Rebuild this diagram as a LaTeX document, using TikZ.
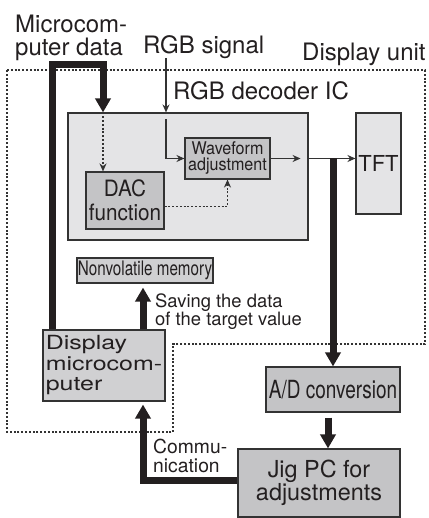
\documentclass[tikz,border=0pt]{standalone}
\usepackage{fontspec}
\setmainfont{TeX Gyre Heros}
\newfontfamily\fnarrow[FakeStretch=0.76]{TeX Gyre Heros}
\newfontfamily\fsemi[FakeStretch=0.92]{TeX Gyre Heros}
\newfontfamily\fwide[FakeStretch=1.28]{TeX Gyre Heros}
\usetikzlibrary{arrows.meta,calc}
\definecolor{boxlight}{HTML}{E4E4E6}
\definecolor{boxdark}{HTML}{C4C4C6}
\definecolor{boxmid}{HTML}{D0D0D2}
\definecolor{edge}{HTML}{333333}
\definecolor{heavy}{HTML}{231F20}
\begin{document}
\begin{tikzpicture}[x=1pt,y=-1pt,
  basebox/.style={draw=edge,line width=1.1pt,inner sep=0pt,align=center,text=heavy},
  lightbox/.style={basebox,fill=boxlight},
  darkbox/.style={basebox,fill=boxdark},
  midbox/.style={basebox,fill=boxmid},
  lbl/.style={inner sep=0pt,text=heavy,align=left},
  bigarrow/.style={draw=heavy,line width=7pt,line join=miter,-{Triangle[length=14pt,width=15pt]}},
  thinarrow/.style={draw=edge,line width=1.2pt,-{Stealth[length=8pt,width=7pt]}},
  dotline/.style={draw=edge,line width=1.2pt,dash pattern=on 2pt off 1.8pt},
  dotarrow/.style={dotline,-{Stealth[length=8pt,width=7pt]}}]
\useasboundingbox (0,0) rectangle (428,518);

% display unit outline
\draw[dotline] (7,70) -- (425,70) -- (425,344) -- (173,344) -- (173,432) -- (7,432) -- cycle;

% boxes
\node[lightbox,minimum width=240pt,minimum height=127pt] (dec) at (188,176.5) {};
\node[lightbox,minimum width=45pt,minimum height=101pt,font=\fontsize{22}{22}\selectfont] (tft) at (378.5,163.5) {TFT};
\node[darkbox,minimum width=85pt,minimum height=41pt,font=\fsemi\fontsize{17.5}{16}\selectfont] (wave) at (227.5,158.5) {Waveform\\adjustment};
\node[darkbox,minimum width=78pt,minimum height=57pt,font=\fsemi\fontsize{22.5}{24}\selectfont] (dac) at (125,200.5) {DAC\\function};
\node[midbox,minimum width=136pt,minimum height=25pt,font=\fnarrow\fontsize{20}{20}\selectfont] (nv) at (145,270.5) {Nonvolatile memory};
\node[midbox,minimum width=122pt,minimum height=71pt,align=left,font=\fwide\fontsize{19.5}{20.5}\selectfont] (dmc) at (104,365.5) {Display\\microcom-\\puter};
\node[darkbox,minimum width=134pt,minimum height=45pt,font=\fnarrow\fontsize{25}{25}\selectfont] (ad) at (333,389.5) {A/D conversion};
\node[darkbox,minimum width=162pt,minimum height=68pt,font=\fontsize{23.4}{23.5}\selectfont] (jig) at (319,483) {Jig PC for\\adjustments};

% labels
\node[lbl,anchor=north west,font=\fontsize{24}{23}\selectfont] (mcdata) at (15,15) {Microcom-\\puter data};
\node[lbl,anchor=base west,font=\fontsize{24}{24}\selectfont] (rgbs) at (143,54) {RGB signal};
\node[lbl,anchor=base west,font=\fontsize{24}{24}\selectfont] (dunit) at (302,61) {Display unit};
\node[lbl,anchor=base west,font=\fontsize{24}{24}\selectfont] (declbl) at (173,100) {RGB decoder IC};
\node[lbl,anchor=north west,font=\fontsize{18.4}{16.5}\selectfont] (save) at (155,293.5) {Saving the data\\of the target value};
\node[lbl,anchor=north west,font=\fontsize{19.3}{18.5}\selectfont] (comm) at (153,439.2) {Commu-\\nication};

% coordinates
\coordinate (mcL) at (52,65);
\coordinate (mcR) at (103,65);
\coordinate (rgbx) at (166,58);
\coordinate (cm) at (143,480);

% connectors
\draw[bigarrow] (dmc.north -| mcL) -- (mcL) -- (mcR) -- (dec.north -| mcR);
\draw[dotarrow] (dec.north -| mcR) -- (dac.north -| mcR);
\draw[thinarrow] (rgbx) -- (dec.north -| rgbx);
\draw[thinarrow] ($(dec.north -| rgbx)+(0,7)$) |- (wave.west);
\draw[dotarrow] ($(dac.east)+(0,6)$) -| (wave.south);
\draw[thinarrow] (wave.east) -- ($(dec.east |- wave.east)+(-8,0)$);
\draw[thinarrow] (dec.east |- wave.east) -- (tft.west |- wave.east);
\draw[bigarrow] (ad.north |- wave.east) -- (ad.north);
\draw[bigarrow] ($(ad.south)+(-5,5)$) -- ($(jig.north)+(9,0)$);
\draw[bigarrow,shorten >=3pt] (jig.west |- cm) -- (cm) -- (cm |- dmc.south);
\draw[bigarrow,shorten >=4pt] (dmc.north -| cm) -- (nv.south -| cm);
\end{tikzpicture}
\end{document}
